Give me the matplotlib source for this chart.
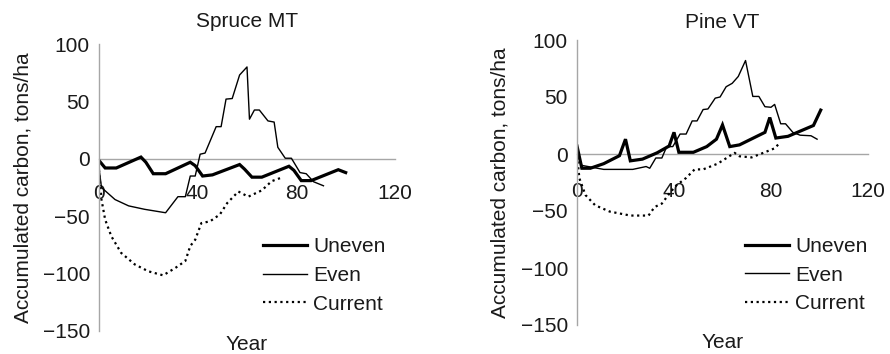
import matplotlib
matplotlib.use("Agg")
import matplotlib.pyplot as plt

plt.rcParams['font.family'] = ['Liberation Sans', 'DejaVu Sans']

# ---------------- data ----------------
spruce_uneven_x = [0, 2.5, 7, 17, 19, 22, 27, 37, 39, 42, 46, 57, 59, 62, 66, 77, 79, 82, 86, 97, 100]
spruce_uneven_y = [-1.5, -8, -8, 1.5, -3, -13, -13, -3, -6, -15, -14, -5, -9, -16, -16, -6.5, -10, -19, -19, -9.5, -12]

spruce_even_x = [0, 1, 6.5, 12, 18.5, 27, 32, 35, 37, 39, 41, 43, 47.5, 49.5, 51.5, 54, 57, 60,
                 61, 63, 65, 68.5, 71, 72.5, 75.5, 78, 81.5, 84, 87, 91]
spruce_even_y = [-8, -25, -35.5, -41, -44, -47, -33, -33, -15, -15, 4, 5, 28, 28, 52, 52.5, 73, 80,
                 34.5, 42.5, 42.5, 33, 32, 10, 0.5, 0.5, -12, -13, -20, -23.5]

spruce_current_x = [0, 1, 2.5, 5, 9, 14.5, 20, 26, 31, 35, 37, 39, 41.5, 45, 49, 52, 56.5, 60.5, 66, 70, 74.5]
spruce_current_y = [-9.5, -35.5, -53, -67.5, -82, -92, -98, -101.5, -95, -89, -76, -70.5, -56, -54.5,
                    -48.5, -38.5, -28.5, -33, -27.5, -19.5, -16]

pine_uneven_x = [0, 2, 5.5, 11, 17.5, 20, 22, 27, 33, 38, 40, 42, 48, 53.5, 57.5, 60, 63, 67, 77.5, 79.5,
                 82, 87, 97.5, 100.5]
pine_uneven_y = [7, -12.5, -12.5, -8.5, -1.5, 13, -6, -4.5, 1, 7, 19, 1.5, 1.5, 6.5, 13, 25.5, 6.5, 8,
                 19, 32, 14, 15.5, 25, 38.5]

pine_even_x = [0, 2, 11, 23, 28.5, 30, 32.5, 35, 37, 39.5, 42.5, 45, 47.5, 49.5, 52, 54, 57, 59, 61.5,
               64, 66.5, 69.5, 72.5, 75, 77.5, 80, 81.5, 84, 86, 89, 92, 96.5, 99]
pine_even_y = [0, -10, -13.5, -13.5, -11, -12.5, -3.5, -3.5, 6.5, 6.5, 17.5, 17.5, 29, 29, 39, 39.5, 49,
               50, 59, 62, 68, 82, 50.5, 50.5, 41.5, 41, 43.5, 26.5, 26.5, 19, 16.5, 16, 13]

pine_current_x = [0, 1, 3.5, 7.5, 13.5, 22, 29.5, 32, 35, 38.5, 41, 45, 48.5, 52, 58, 65, 67, 72, 78, 81.5, 83.5]
pine_current_y = [-1.5, -21.5, -36, -45, -50.5, -54, -54, -46.5, -43.5, -33.5, -27.5, -21, -13.5, -13.5,
                  -8.5, 1, -2, -3, 2, 5, 9.5]

titles = ["Spruce MT", "Pine VT"]
series_labels = ["Uneven", "Even", "Current"]
x_ticks = [0, 40, 80, 120]
y_ticks = [-150, -100, -50, 0, 50, 100]
y_label = "Accumulated carbon, tons/ha"
x_label = "Year"

# ---------------- figure ----------------
W, H = 890, 354
fig = plt.figure(figsize=(W / 100, H / 100), dpi=100)

# axes boxes in pixel coords: (left, right, top(100), bottom(-150))
boxes = [(99, 395, 44, 331), (577, 868, 40, 325)]
legend_anchor = [(0.554, 0.326), (0.577, 0.309)]
ylabel_off = [66, 67]
year_y = [345, 342]
title_pad = [12, 8.5]
xtick_pad = [18.5, 20.5]

data = [
    (spruce_uneven_x, spruce_uneven_y, spruce_even_x, spruce_even_y, spruce_current_x, spruce_current_y),
    (pine_uneven_x, pine_uneven_y, pine_even_x, pine_even_y, pine_current_x, pine_current_y),
]

axis_gray = '#a6a6a6'
fs = 15

for i, (l, r, t, b) in enumerate(boxes):
    ax = fig.add_axes([l / W, 1 - b / H, (r - l) / W, (b - t) / H])
    ux, uy, ex, ey, cx, cy = data[i]
    ax.plot(ux, uy, color='black', lw=2.3, label=series_labels[0], solid_joinstyle='miter')
    ax.plot(ex, ey, color='black', lw=1.0, label=series_labels[1])
    ax.plot(cx, cy, color='black', lw=1.6, linestyle=(0, (1, 1.6)), label=series_labels[2])

    ax.set_xlim(0, 120)
    ax.set_ylim(-150, 100)
    ax.set_xticks(x_ticks)
    ax.set_yticks(y_ticks)
    for s in ['top', 'right']:
        ax.spines[s].set_visible(False)
    ax.spines['bottom'].set_position(('data', 0))
    ax.spines['bottom'].set_color(axis_gray)
    ax.spines['left'].set_color(axis_gray)
    ax.spines['bottom'].set_linewidth(1.0)
    ax.spines['left'].set_linewidth(1.0)
    ax.spines['bottom'].set_zorder(0.5)
    ax.tick_params(axis='both', length=0, labelsize=fs, colors='#1a1a1a')
    ax.tick_params(axis='y', pad=6.5)
    ax.tick_params(axis='x', pad=xtick_pad[i])
    ax.patch.set_alpha(0)

    ax.set_title(titles[i], fontsize=fs, pad=title_pad[i], color='#1a1a1a')
    ax.set_ylabel(y_label, fontsize=fs, color='#1a1a1a')
    ax.yaxis.set_label_coords(-ylabel_off[i] / (r - l), 0.5)
    ax.text(0.5, (b - year_y[i]) / (b - t), x_label, transform=ax.transAxes,
            ha='center', va='center', fontsize=fs, color='#1a1a1a')

    leg = ax.legend(loc='upper left', bbox_to_anchor=legend_anchor[i], frameon=False,
                    fontsize=fs, handlelength=2.1, handletextpad=0.3, labelspacing=0.46,
                    borderpad=0, borderaxespad=0)
    for txt in leg.get_texts():
        txt.set_color('#1a1a1a')

fig.savefig("out.png", dpi=100)
